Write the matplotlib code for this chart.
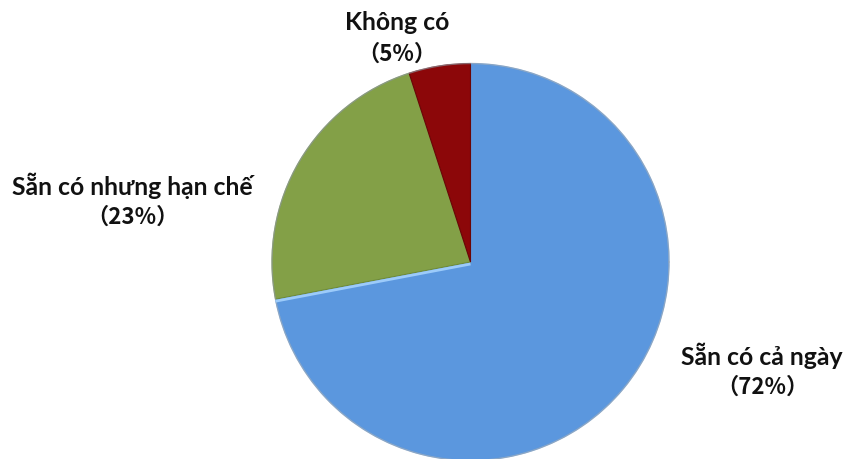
import matplotlib
matplotlib.use("Agg")
import matplotlib.pyplot as plt
import numpy as np

# Availability shares
categories = ["Sẵn có cả ngày", "Sẵn có nhưng hạn chế", "Không có"]
values = [72, 23, 5]
colors = ["#5B97DE", "#83A047", "#8C0709"]
edge_colors = ["#6FA8EA", "#6E8A38", "#6A0506"]

W, H = 846, 459
fig = plt.figure(figsize=(W / 100, H / 100), dpi=100)
ax = fig.add_axes([0, 0, 1, 1])

cx, cy, r = 470.5, H - 262, 198.5

wedges, _ = ax.pie(values, colors=colors, startangle=90, counterclock=False,
                   center=(cx, cy), radius=r, frame=True,
                   wedgeprops=dict(linewidth=0.8))
for w, ec in zip(wedges, edge_colors):
    w.set_edgecolor(ec)

# soft outer rim
theta = np.linspace(0, 2 * np.pi, 400)
ax.plot(cx + r * np.cos(theta), cy + r * np.sin(theta), color="#9AA4AE",
        lw=1.0, alpha=0.6, zorder=3)

# light bevel along the blue slice's straight edge
ang = np.deg2rad(90 - 360 * values[0] / 100)
ax.plot([cx, cx + r * np.cos(ang)], [cy - 2, cy - 2 + r * np.sin(ang)],
        color="#9CCBFA", lw=2.0, zorder=3, solid_capstyle="butt")

ax.set_xlim(0, W)
ax.set_ylim(0, H)
ax.set_aspect("equal")
ax.axis("off")

name_font = ["Lato", "Noto Sans CJK SC"]
pct_font = ["Noto Sans CJK SC", "Lato"]
label_pos = {
    "Sẵn có cả ngày": (762, H - 356),
    "Sẵn có nhưng hạn chế": (132, H - 186),
    "Không có": (397, H - 23),
}
for cat, v in zip(categories, values):
    x, y = label_pos[cat]
    ax.text(x, y, cat, ha="center", va="center", fontsize=17.8,
            fontweight="bold", family=name_font, color="#111111")
    ax.text(x, y - 31, f"（{v}%）", ha="center", va="center", fontsize=16,
            fontweight="bold", family=pct_font, color="#111111")

fig.savefig("out.png", dpi=100)
